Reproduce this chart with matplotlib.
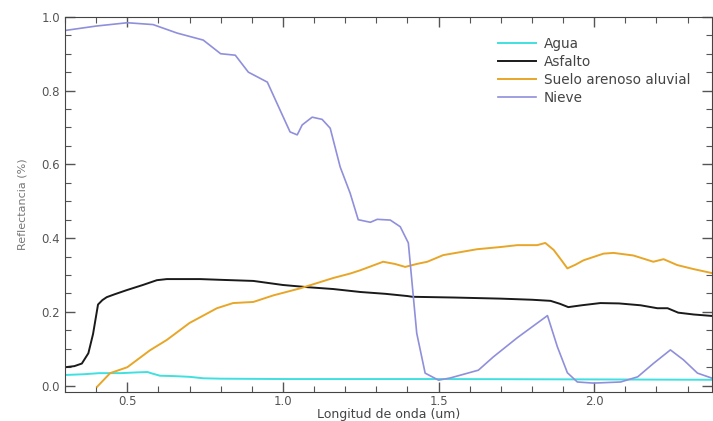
import matplotlib
matplotlib.use("Agg")
import matplotlib.pyplot as plt
from matplotlib.ticker import MultipleLocator, FormatStrFormatter

# Agua
agua_x = [0.30, 0.36, 0.41, 0.48, 0.53, 0.565, 0.58, 0.605, 0.65, 0.70, 0.745, 0.80, 1.0, 1.5, 2.0, 2.38]
agua_y = [0.029, 0.031, 0.034, 0.034, 0.036, 0.037, 0.033, 0.027, 0.026, 0.024, 0.020, 0.019, 0.018, 0.018, 0.017, 0.016]

# Asfalto
asf_x = [0.30, 0.33, 0.354, 0.375, 0.39, 0.40, 0.406, 0.42, 0.434, 0.46, 0.498, 0.55, 0.595, 0.627,
         0.734, 0.80, 0.905, 1.0, 1.08, 1.162, 1.249, 1.33, 1.40, 1.416, 1.55, 1.70, 1.80, 1.86,
         1.89, 1.917, 1.96, 2.02, 2.08, 2.149, 2.203, 2.236, 2.27, 2.32, 2.38]
asf_y = [0.050, 0.053, 0.060, 0.088, 0.14, 0.19, 0.22, 0.232, 0.240, 0.248, 0.259, 0.273, 0.286, 0.289,
         0.289, 0.287, 0.284, 0.273, 0.267, 0.262, 0.254, 0.249, 0.243, 0.241, 0.239, 0.236, 0.233, 0.230,
         0.222, 0.213, 0.218, 0.224, 0.223, 0.218, 0.210, 0.210, 0.198, 0.193, 0.189]

# Suelo arenoso aluvial
suelo_x = [0.403, 0.445, 0.50, 0.573, 0.627, 0.70, 0.788, 0.84, 0.905, 0.97, 1.056, 1.162, 1.216,
           1.249, 1.322, 1.36, 1.393, 1.43, 1.464, 1.515, 1.624, 1.70, 1.753, 1.817, 1.843, 1.87,
           1.895, 1.914, 1.94, 1.966, 2.03, 2.062, 2.126, 2.19, 2.223, 2.267, 2.32, 2.38]
suelo_y = [-0.003, 0.034, 0.050, 0.096, 0.124, 0.170, 0.210, 0.224, 0.227, 0.245, 0.264, 0.292, 0.304,
           0.313, 0.336, 0.330, 0.322, 0.330, 0.336, 0.354, 0.370, 0.376, 0.381, 0.381, 0.387, 0.368,
           0.340, 0.318, 0.328, 0.340, 0.358, 0.360, 0.353, 0.336, 0.343, 0.327, 0.316, 0.305]

# Nieve
nieve_x = [0.30, 0.40, 0.50, 0.583, 0.66, 0.744, 0.80, 0.847, 0.889, 0.95, 0.991, 1.023, 1.046,
           1.062, 1.094, 1.126, 1.152, 1.184, 1.216, 1.242, 1.281, 1.303, 1.345, 1.377, 1.403,
           1.43, 1.457, 1.50, 1.538, 1.628, 1.676, 1.753, 1.85, 1.882, 1.914, 1.946, 1.998, 2.085,
           2.14, 2.19, 2.245, 2.287, 2.332, 2.38]
nieve_y = [0.963, 0.975, 0.984, 0.979, 0.956, 0.937, 0.900, 0.896, 0.850, 0.823, 0.747, 0.688, 0.680,
           0.707, 0.728, 0.722, 0.698, 0.593, 0.522, 0.450, 0.443, 0.451, 0.449, 0.431, 0.387,
           0.142, 0.034, 0.015, 0.021, 0.042, 0.078, 0.130, 0.190, 0.105, 0.035, 0.010, 0.007, 0.010,
           0.024, 0.060, 0.097, 0.070, 0.034, 0.020]

fig = plt.figure(figsize=(7.13, 4.21), dpi=100)
ax = fig.add_axes([0.0912, 0.069, 0.908, 0.891])

ax.plot(agua_x, agua_y, color="#40e0e0", lw=1.4, label="Agua")
ax.plot(asf_x, asf_y, color="#1a1a1a", lw=1.4, label="Asfalto")
ax.plot(suelo_x, suelo_y, color="#e8a628", lw=1.4, label="Suelo arenoso aluvial")
ax.plot(nieve_x, nieve_y, color="#8f8fdc", lw=1.2, label="Nieve")

ax.set_xlim(0.3, 2.38)
ax.set_ylim(-0.017, 1.0)
ax.xaxis.set_major_locator(MultipleLocator(0.5))
ax.xaxis.set_minor_locator(MultipleLocator(0.1))
ax.yaxis.set_major_locator(MultipleLocator(0.2))
ax.yaxis.set_minor_locator(MultipleLocator(0.05))
ax.xaxis.set_major_formatter(FormatStrFormatter("%.1f"))
ax.yaxis.set_major_formatter(FormatStrFormatter("%.1f"))
ax.tick_params(which="both", direction="in", top=True, right=True, colors="#555555",
               labelsize=8.5)
ax.tick_params(which="major", length=7, width=1)
ax.tick_params(which="minor", length=4, width=0.8)
ax.tick_params(axis="x", pad=2)
for s in ax.spines.values():
    s.set_color("#444444")

ax.set_xlabel("Longitud de onda (um)", fontsize=9, color="#444444", labelpad=0)
ax.set_ylabel("Reflectancia (%)", fontsize=8, color="#777777", labelpad=10)

leg = ax.legend(loc="upper right", bbox_to_anchor=(0.985, 0.98), frameon=False, fontsize=9.8,
                handlelength=2.8, labelspacing=0.3, handletextpad=0.6)
for t in leg.get_texts():
    t.set_color("#444444")

fig.savefig("out.png", dpi=100)
